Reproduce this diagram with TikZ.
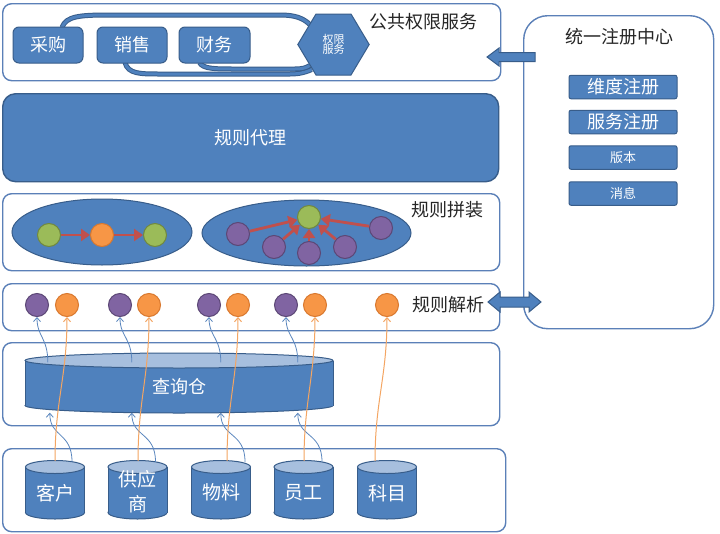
\documentclass[tikz,border=0pt]{standalone}
\usepackage{fontspec}
\setmainfont{Noto Sans CJK SC}
\usetikzlibrary{arrows.meta,shapes.geometric}
\definecolor{pborder}{HTML}{5B80B8}
\definecolor{bfill}{HTML}{4F81BD}
\definecolor{bdark}{HTML}{385D8A}
\definecolor{blight}{HTML}{A7BFDE}
\definecolor{cgreen}{HTML}{9BBB59}
\definecolor{cgreenD}{HTML}{71893F}
\definecolor{corange}{HTML}{F79646}
\definecolor{corangeD}{HTML}{D9782E}
\definecolor{cpurple}{HTML}{8064A2}
\definecolor{cpurpleD}{HTML}{5C4776}
\definecolor{cred}{HTML}{C0504D}
\definecolor{txt}{HTML}{262626}
\definecolor{lineblue}{HTML}{5A86BE}
\definecolor{lineorange}{HTML}{F4A562}
\newcommand\myfs[1]{\fontsize{#1}{#1}\selectfont}
\newcommand\cylshape[5]{%
  \filldraw[draw=bdark, fill=bfill, line width=1pt] (#1,#3) ellipse [x radius=#4, y radius=#5];
  \fill[bfill] (#1-#4,#2) rectangle (#1+#4,#3);
  \draw[bdark, line width=1pt] (#1-#4,#2) -- (#1-#4,#3) (#1+#4,#2) -- (#1+#4,#3);
  \filldraw[draw=bdark, fill=blight, line width=1pt] (#1,#2) ellipse [x radius=#4, y radius=#5];
}
\pgfdeclarelayer{bg}
\pgfsetlayers{bg,main}
\begin{document}
\begin{tikzpicture}[x=1pt,y=-1pt,
 panel/.style={draw=pborder, line width=1.4pt, rounded corners=9pt, anchor=north west, inner sep=0pt},
 bbtn/.style={draw=bdark, fill=bfill, line width=1pt, rounded corners=6pt, text=white, font=\myfs{18}, minimum height=36pt, inner sep=0pt},
 lbl/.style={text=txt, font=\myfs{18}, inner sep=0pt},
 regbox/.style={draw=bdark, fill=bfill, line width=1pt, rounded corners=2pt, text=white, minimum width=108pt, minimum height=23.5pt, inner sep=0pt},
 dot/.style={circle, minimum size=23pt, inner sep=0pt, line width=1pt},
 gdot/.style={dot, fill=cgreen, draw=cgreenD},
 odot/.style={dot, fill=corange, draw=corangeD},
 pdot/.style={dot, fill=cpurple, draw=cpurpleD},
 rarrow/.style={draw=cred, line width=2.8pt, -{Triangle[length=9pt,width=12pt]}},
 tube/.style={draw=bdark, double=bfill, double distance=3pt, line width=1pt},
 feedb/.style={draw=lineblue, line width=0.8pt, -{Straight Barb[length=4pt,width=7pt]}},
 feedo/.style={draw=lineorange, line width=1pt, -{Straight Barb[length=4pt,width=7pt]}},
 cylnode/.style={inner sep=0pt, minimum width=59pt, minimum height=45.5pt, text=white, font=\myfs{19}, align=center},
 barrow/.style={draw=bdark, fill=bfill, line width=1pt}
]
\useasboundingbox (0,0) rectangle (720,533);
\begin{pgfonlayer}{bg}
\fill[white] (0,0) rectangle (720,533);
\end{pgfonlayer}

% panels
\node[panel, minimum width=498pt, minimum height=77pt] (pq) at (2,3) {};
\node[panel, minimum width=496pt, minimum height=88pt, fill=bfill, draw=bdark, rounded corners=13pt] (proxy) at (2,93) {};
\node[lbl, text=white] at (proxy.center) {规则代理};
\node[panel, minimum width=497pt, minimum height=77pt] (pz) at (2,193) {};
\node[panel, minimum width=497pt, minimum height=47pt] (pj) at (2,283) {};
\node[panel, minimum width=497pt, minimum height=83pt] (pc) at (2,342) {};
\node[panel, minimum width=503pt, minimum height=83pt] (ps) at (2,448) {};
\node[panel, minimum width=190pt, minimum height=313pt, rounded corners=24pt] (reg) at (523,15) {};

% top panel
\node[lbl] (tq) at (423,22) {公共权限服务};
\node[bbtn, minimum width=70pt] (caigou) at (48,45) {采购};
\node[bbtn, minimum width=70pt] (xiaoshou) at (132,45) {销售};
\node[bbtn, minimum width=71pt] (caiwu) at (214.5,45) {财务};
\node[inner sep=0pt, minimum width=71pt, minimum height=61pt] (hex) at (333.5,44.5) {};
\filldraw[draw=bdark, fill=bfill, line width=1pt] (hex.west) -- (316,14) -- (351,14) -- (hex.east) -- (351,75) -- (316,75) -- cycle;
\node[text=white, font=\myfs{11}, align=center, inner sep=0pt] at (hex) {权限\\[-1pt]服务};
\begin{pgfonlayer}{bg}
\draw[tube] ([shift={(14,1)}]caigou.north) .. controls (66,16) and (80,15) .. (110,15) -- (280,15) .. controls (295,15) and (303,18) .. ([shift={(12,-20)}]hex.west);
\draw[tube] ([shift={(-7,-1)}]xiaoshou.south) .. controls (128,74) and (140,74) .. (160,74) -- (290,74) .. controls (300,74) and (306,72) .. ([shift={(14,25)}]hex.west);
\draw[tube] ([shift={(-15,-1)}]caiwu.south) .. controls (203,69) and (215,69) .. (235,69) -- (295,69) .. controls (302,69) and (306,68) .. ([shift={(12,21)}]hex.west);
\end{pgfonlayer}

% register center
\node[lbl] (treg) at (619,37) {统一注册中心};
\node[regbox, font=\myfs{18}] (r1) at (623,87) {维度注册};
\node[regbox, font=\myfs{18}] (r2) at (623,122) {服务注册};
\node[regbox, font=\myfs{13}] (r3) at (623,157.5) {版本};
\node[regbox, font=\myfs{13}] (r4) at (623,193.5) {消息};
\filldraw[barrow] (487,57) -- (499,48) -- (499,52.5) -- (535,52.5) -- (535,61.5) -- (499,61.5) -- (499,66) -- cycle;
\filldraw[barrow] (488,302) -- (500,292) -- (500,297) -- (529,297) -- (529,292) -- (541,302) -- (529,312) -- (529,307) -- (500,307) -- (500,312) -- cycle;

% assembly
\node[lbl] (tz) at (447,210) {规则拼装};
\node[ellipse, draw=bdark, fill=bfill, line width=1pt, minimum width=180pt, minimum height=66pt] (e1) at (102,232) {};
\node[ellipse, draw=bdark, fill=bfill, line width=1pt, minimum width=209pt, minimum height=66pt] (e2) at (306.5,233) {};
\node[gdot] (g1) at (49,235) {};
\node[odot] (o1) at (102,235) {};
\node[gdot] (g2) at (155,235) {};
\draw[rarrow] (g1) -- (o1);
\draw[rarrow] (o1) -- (g2);
\node[gdot] (g3) at (309,217) {};
\node[pdot] (q1) at (238,234) {};
\node[pdot] (q2) at (274,247) {};
\node[pdot] (q3) at (309,253) {};
\node[pdot] (q4) at (345,247) {};
\node[pdot] (q5) at (381,228) {};
\foreach \q in {q1,q2,q3,q4,q5} \draw[rarrow] (\q) -- (g3);

% parse row
\node[lbl] (tj) at (448,305) {规则解析};
\node[pdot] (pa) at (37,305) {};
\node[odot] (oa) at (67,305) {};
\node[pdot] (pb) at (120,305) {};
\node[odot] (ob) at (149,305) {};
\node[pdot] (pc2) at (209,305) {};
\node[odot] (oc) at (238,305) {};
\node[pdot] (pd) at (286,305) {};
\node[odot] (od) at (315,305) {};
\node[odot] (oe) at (387,305) {};

% warehouse
\cylshape{179}{360.5}{405.5}{154}{7.5}
\node[inner sep=0pt, minimum width=308pt, minimum height=45pt] (cang) at (179,383) {};
\node[lbl, text=white] at ([shift={(0,4)}]cang.center) {查询仓};

% sources
\cylshape{55}{467}{512.5}{29.5}{6.5}
\cylshape{137.5}{467}{512.5}{29.5}{6.5}
\cylshape{221}{467}{512.5}{29.5}{6.5}
\cylshape{303.5}{467}{512.5}{29.5}{6.5}
\cylshape{387}{467}{512.5}{29.5}{6.5}
\node[cylnode] (kehu) at (55,489.75) {};
\node[cylnode] (gys) at (137.5,489.75) {};
\node[cylnode] (wuliao) at (221,489.75) {};
\node[cylnode] (yuangong) at (303.5,489.75) {};
\node[cylnode] (kemu) at (387,489.75) {};
\node[text=white, font=\myfs{19}, inner sep=0pt] at ([shift={(0,3)}]kehu.center) {客户};
\node[text=white, font=\myfs{19}, inner sep=0pt, align=center] at ([shift={(0,2)}]gys.center) {供应\\[6pt]商};
\node[text=white, font=\myfs{19}, inner sep=0pt] at ([shift={(0,3)}]wuliao.center) {物料};
\node[text=white, font=\myfs{19}, inner sep=0pt] at ([shift={(0,3)}]yuangong.center) {员工};
\node[text=white, font=\myfs{19}, inner sep=0pt] at ([shift={(0,3)}]kemu.center) {科目};

% feeds: sources -> warehouse
\draw[feedb] ([shift={(17,-5)}]kehu.north) .. controls +(0,-30) and +(0,25) .. ([shift={(25,7)}]cang.south west);
\draw[feedb] ([shift={(18,-5)}]gys.north) .. controls +(0,-30) and +(0,25) .. ([shift={(107,7)}]cang.south west);
\draw[feedb] ([shift={(24,-5)}]wuliao.north) .. controls +(0,-30) and +(0,25) .. ([shift={(196,7)}]cang.south west);
\draw[feedb] ([shift={(18.5,-5)}]yuangong.north) .. controls +(0,-30) and +(0,25) .. ([shift={(273,7)}]cang.south west);
% warehouse -> purple
\draw[feedb] ([shift={(23,2)}]cang.north west) .. controls +(0,-25) and +(0,20) .. (pa.south);
\draw[feedb] ([shift={(107,2)}]cang.north west) .. controls +(0,-25) and +(0,20) .. (pb.south);
\draw[feedb] ([shift={(196,2)}]cang.north west) .. controls +(0,-25) and +(0,20) .. (pc2.south);
\draw[feedb] ([shift={(273,2)}]cang.north west) .. controls +(0,-25) and +(0,20) .. (pd.south);
% orange direct
\draw[feedo] ([shift={(0,-6)}]kehu.north) .. controls +(0,-60) and +(0,60) .. (oa.south);
\draw[feedo] ([shift={(0.5,-6)}]gys.north) .. controls +(0,-60) and +(0,60) .. (ob.south);
\draw[feedo] ([shift={(6,-6)}]wuliao.north) .. controls +(0,-60) and +(0,60) .. (oc.south);
\draw[feedo] ([shift={(0.5,-6)}]yuangong.north) .. controls +(0,-60) and +(0,60) .. (od.south);
\draw[feedo] ([shift={(-12,-6)}]kemu.north) .. controls +(0,-60) and +(0,60) .. (oe.south);
\end{tikzpicture}
\end{document}
